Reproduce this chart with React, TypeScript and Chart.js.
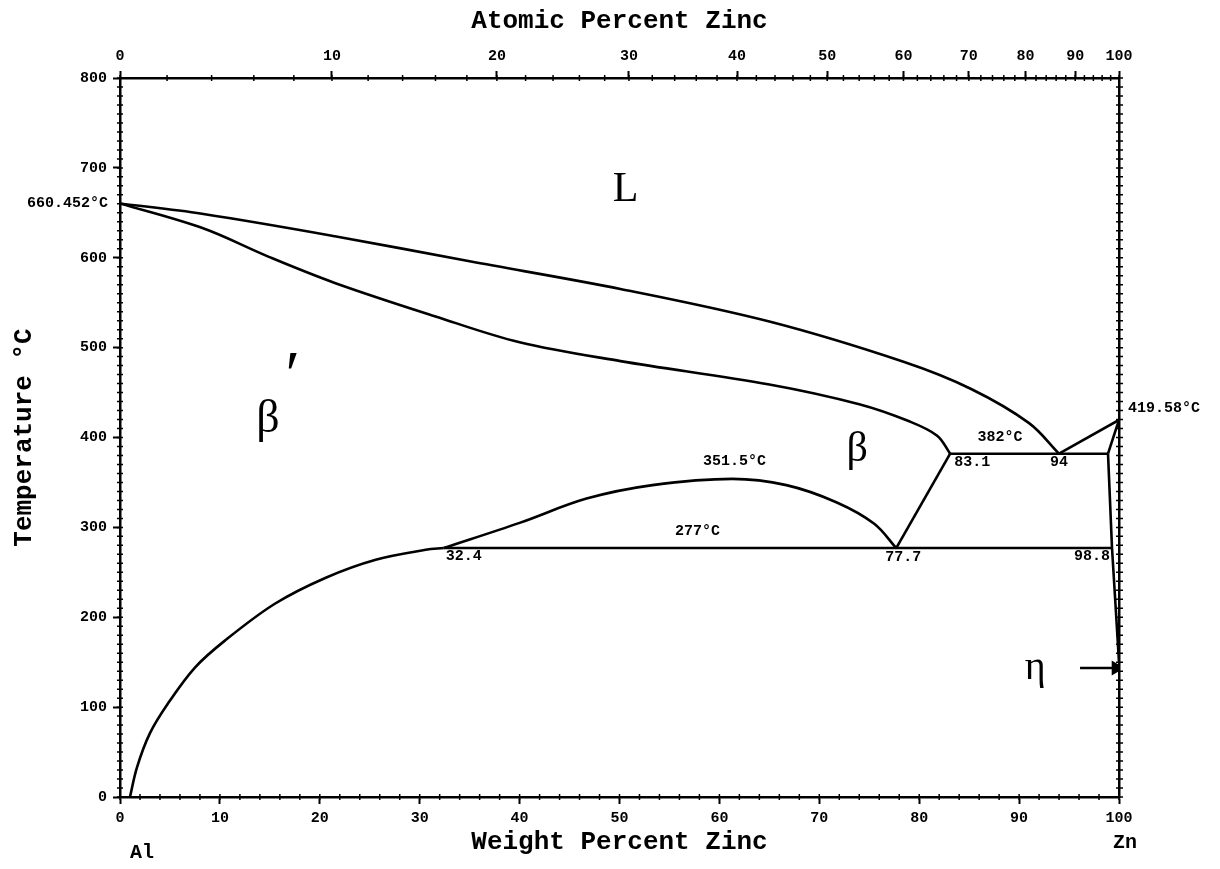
import React, { useEffect, useRef } from "react";
import { Chart, registerables } from "chart.js";

Chart.register(...registerables);

// ---------- data (weight percent Zn, temperature °C) ----------
const liquidusWt = [0, 8.2, 21.5, 35.0, 50.2, 65.0, 78.5, 85.2, 91.0, 94.0];
const liquidusT = [660.45, 649, 624, 596, 565, 529, 484, 454, 416, 382];

const solidusWt = [0, 8.25, 14.9, 21.5, 31.5, 40.0, 50.1, 65.0, 74.0, 79.0, 81.8, 83.1];
const solidusT = [660.45, 633, 601, 572, 535, 506, 485, 459, 437, 418, 402, 382];

const solvusWt = [1.0, 1.7, 3.0, 4.8, 7.5, 10.5, 15.5, 20.6, 25.6, 30.6, 32.4];
const solvusT = [0, 33, 71, 104, 144, 174, 215, 244, 264, 275, 277];

const domeWt = [32.4, 40.0, 46.7, 53.3, 61.3, 66.7, 71.7, 75.5, 77.7];
const domeT = [277, 305, 332, 347, 354, 347, 328, 304, 277];

const betaEdgeWt = [77.7, 83.1];
const betaEdgeT = [277, 382];

const eutecticWt = [83.1, 98.9];
const eutecticT = [382, 382];

const monotectoidWt = [32.4, 99.3];
const monotectoidT = [277, 277];

const znLiquidusWt = [94.0, 100];
const znLiquidusT = [382, 419.58];

const znSolidusWt = [98.9, 100];
const znSolidusT = [382, 419.58];

const znSolvusWt = [98.9, 99.3, 99.7, 100];
const znSolvusT = [382, 277, 205, 150];

const arrowWt = [96.1, 99.7];
const arrowT = [143.5, 143.5];

const weightTickStep = 10;
const tempTickStep = 100;
const atomicTicks = [0, 10, 20, 30, 40, 50, 60, 70, 80, 90, 100];

const AL_MASS = 26.98;
const ZN_MASS = 65.38;
const atToWt = (a: number) =>
  a >= 100 ? 100 : (100 * a * ZN_MASS) / (a * ZN_MASS + (100 - a) * AL_MASS);

// annotation texts anchored in data coordinates (wt %, °C)
const noteTexts = ["660.452°C", "419.58°C", "382°C", "83.1", "94", "351.5°C", "277°C", "32.4", "77.7", "98.8"];
const noteWt = [-1.2, 100.9, 88.1, 85.3, 94.0, 61.5, 57.8, 34.4, 78.4, 97.3];
const noteT = [660.7, 432.7, 400.5, 372.5, 373, 373.5, 295.5, 267.5, 267, 267.5];

const phaseTexts = ["L", "β", "β", "′", "η"];
const phaseWt = [50.6, 73.8, 14.8, 17.3, 91.6];
const phaseT = [675.2, 386, 419.4, 466, 143.5];

const endTexts = ["Al", "Zn"];
const endWt = [2.2, 100.6];
const endT = [-62.3, -51.2];

const pts = (xs: number[], ys: number[]) => xs.map((x, i) => ({ x, y: ys[i] }));

const MONO = "'Liberation Mono', 'DejaVu Sans Mono', monospace";
const SERIF = "'Liberation Serif', 'DejaVu Serif', serif";

const minorTicksPlugin = {
  id: "minorTicks",
  afterDraw(chart: any) {
    const { ctx, chartArea: a, scales } = chart;
    ctx.save();
    ctx.strokeStyle = "#000";
    ctx.lineWidth = 1.5;
    ctx.beginPath();
    for (let w = 0; w <= 100; w += 2) {
      const x = scales.x.getPixelForValue(w);
      ctx.moveTo(x, a.bottom - 3);
      ctx.lineTo(x, a.bottom + 3);
    }
    for (let at = 0; at <= 100; at += 2) {
      const x = scales.x.getPixelForValue(atToWt(at));
      ctx.moveTo(x, a.top - 3);
      ctx.lineTo(x, a.top + 3);
    }
    for (let t = 0; t <= 800; t += 10) {
      const y = scales.y.getPixelForValue(t);
      ctx.moveTo(a.left - 3, y);
      ctx.lineTo(a.left + 3, y);
      ctx.moveTo(a.right - 3, y);
      ctx.lineTo(a.right + 4, y);
    }
    ctx.stroke();
    ctx.restore();
  },
};

const textPlugin = {
  id: "phaseText",
  afterDraw(chart: any) {
    const { ctx, scales } = chart;
    const px = (w: number) => scales.x.getPixelForValue(w);
    const py = (t: number) => scales.y.getPixelForValue(t);
    ctx.save();
    ctx.fillStyle = "#000";
    ctx.textBaseline = "middle";
    ctx.font = `bold 15px ${MONO}`;
    noteTexts.forEach((s, i) => {
      ctx.textAlign = i === 0 ? "right" : i === 1 ? "left" : "center";
      ctx.fillText(s, px(noteWt[i]), py(noteT[i]));
    });
    ctx.textAlign = "center";
    const sizes = [42, 42, 46, 66, 40];
    phaseTexts.forEach((s, i) => {
      ctx.font = `${sizes[i]}px ${SERIF}`;
      ctx.fillText(s, px(phaseWt[i]), py(phaseT[i]));
    });
    ctx.font = `bold 20px ${MONO}`;
    endTexts.forEach((s, i) => {
      ctx.fillText(s, px(endWt[i]), py(endT[i]));
    });
    ctx.restore();
  },
};

export default function App() {
  const ref = useRef<HTMLCanvasElement | null>(null);

  useEffect(() => {
    if (!ref.current) return;
    const line = (xs: number[], ys: number[], smooth: boolean) => ({
      data: pts(xs, ys),
      showLine: true,
      borderColor: "#000",
      backgroundColor: "#000",
      borderWidth: 2.6,
      pointRadius: 0,
      tension: smooth ? 0.35 : 0,
    });
    const tickFont = { family: MONO, size: 15, weight: "bold" as const };
    const titleFont = { family: MONO, size: 26, weight: "bold" as const };
    const chart = new Chart(ref.current, {
      type: "scatter",
      data: {
        datasets: [
          line(liquidusWt, liquidusT, true),
          line(solidusWt, solidusT, true),
          line(solvusWt, solvusT, true),
          line(domeWt, domeT, true),
          line(betaEdgeWt, betaEdgeT, false),
          line(eutecticWt, eutecticT, false),
          line(monotectoidWt, monotectoidT, false),
          line(znLiquidusWt, znLiquidusT, false),
          line(znSolidusWt, znSolidusT, false),
          line(znSolvusWt, znSolvusT, false),
          {
            ...line(arrowWt, arrowT, false),
            pointRadius: [0, 6],
            pointStyle: "triangle",
            rotation: 90,
          } as any,
        ],
      },
      options: {
        animation: false,
        responsive: false,
        events: [],
        layout: { padding: 0 },
        plugins: {
          legend: { display: false },
          tooltip: { enabled: false },
        },
        scales: {
          x: {
            type: "linear",
            position: "bottom",
            min: 0,
            max: 100,
            ticks: { stepSize: weightTickStep, font: tickFont, color: "#000", padding: 5, maxRotation: 0 },
            grid: { drawOnChartArea: false, tickLength: 7, tickColor: "#000", tickWidth: 2 },
            border: { color: "#000", width: 2.5 },
            title: {
              display: true,
              text: "Weight Percent Zinc",
              font: titleFont,
              color: "#000",
              padding: { top: 0, bottom: 11 },
            },
            afterFit: (s: any) => {
              s.height = 72;
            },
          },
          x2: {
            type: "linear",
            position: "top",
            min: 0,
            max: 100,
            afterBuildTicks: (s: any) => {
              s.ticks = atomicTicks.map((a) => ({ value: atToWt(a) }));
            },
            ticks: {
              autoSkip: false,
              maxRotation: 0,
              font: tickFont,
              color: "#000",
              padding: 6,
              callback: (_v: any, i: number) => String(atomicTicks[i]),
            },
            grid: { drawOnChartArea: false, tickLength: 7, tickColor: "#000", tickWidth: 2 },
            border: { color: "#000", width: 2.5 },
            title: {
              display: true,
              text: "Atomic Percent Zinc",
              font: titleFont,
              color: "#000",
              padding: { top: 6, bottom: 0 },
            },
            afterFit: (s: any) => {
              s.height = 78;
            },
          },
          y: {
            type: "linear",
            position: "left",
            min: 0,
            max: 800,
            ticks: { stepSize: tempTickStep, font: tickFont, color: "#000", padding: 6 },
            grid: { drawOnChartArea: false, tickLength: 7, tickColor: "#000", tickWidth: 2 },
            border: { color: "#000", width: 2.5 },
            title: {
              display: true,
              text: "Temperature °C",
              font: titleFont,
              color: "#000",
              padding: { top: 9, bottom: 0 },
            },
            afterFit: (s: any) => {
              s.width = 120;
            },
          },
          y2: {
            type: "linear",
            position: "right",
            min: 0,
            max: 800,
            ticks: { display: false, stepSize: tempTickStep },
            grid: { drawOnChartArea: false, drawTicks: false },
            border: { color: "#000", width: 2.5 },
            afterFit: (s: any) => {
              s.width = 101;
            },
          },
        },
      },
      plugins: [minorTicksPlugin, textPlugin],
    });
    return () => chart.destroy();
  }, []);

  return (
    <div style={{ position: "absolute", left: 0, top: 0, width: 1220, height: 869, background: "#fff" }}>
      <canvas ref={ref} width={1220} height={869} style={{ display: "block" }} />
    </div>
  );
}
